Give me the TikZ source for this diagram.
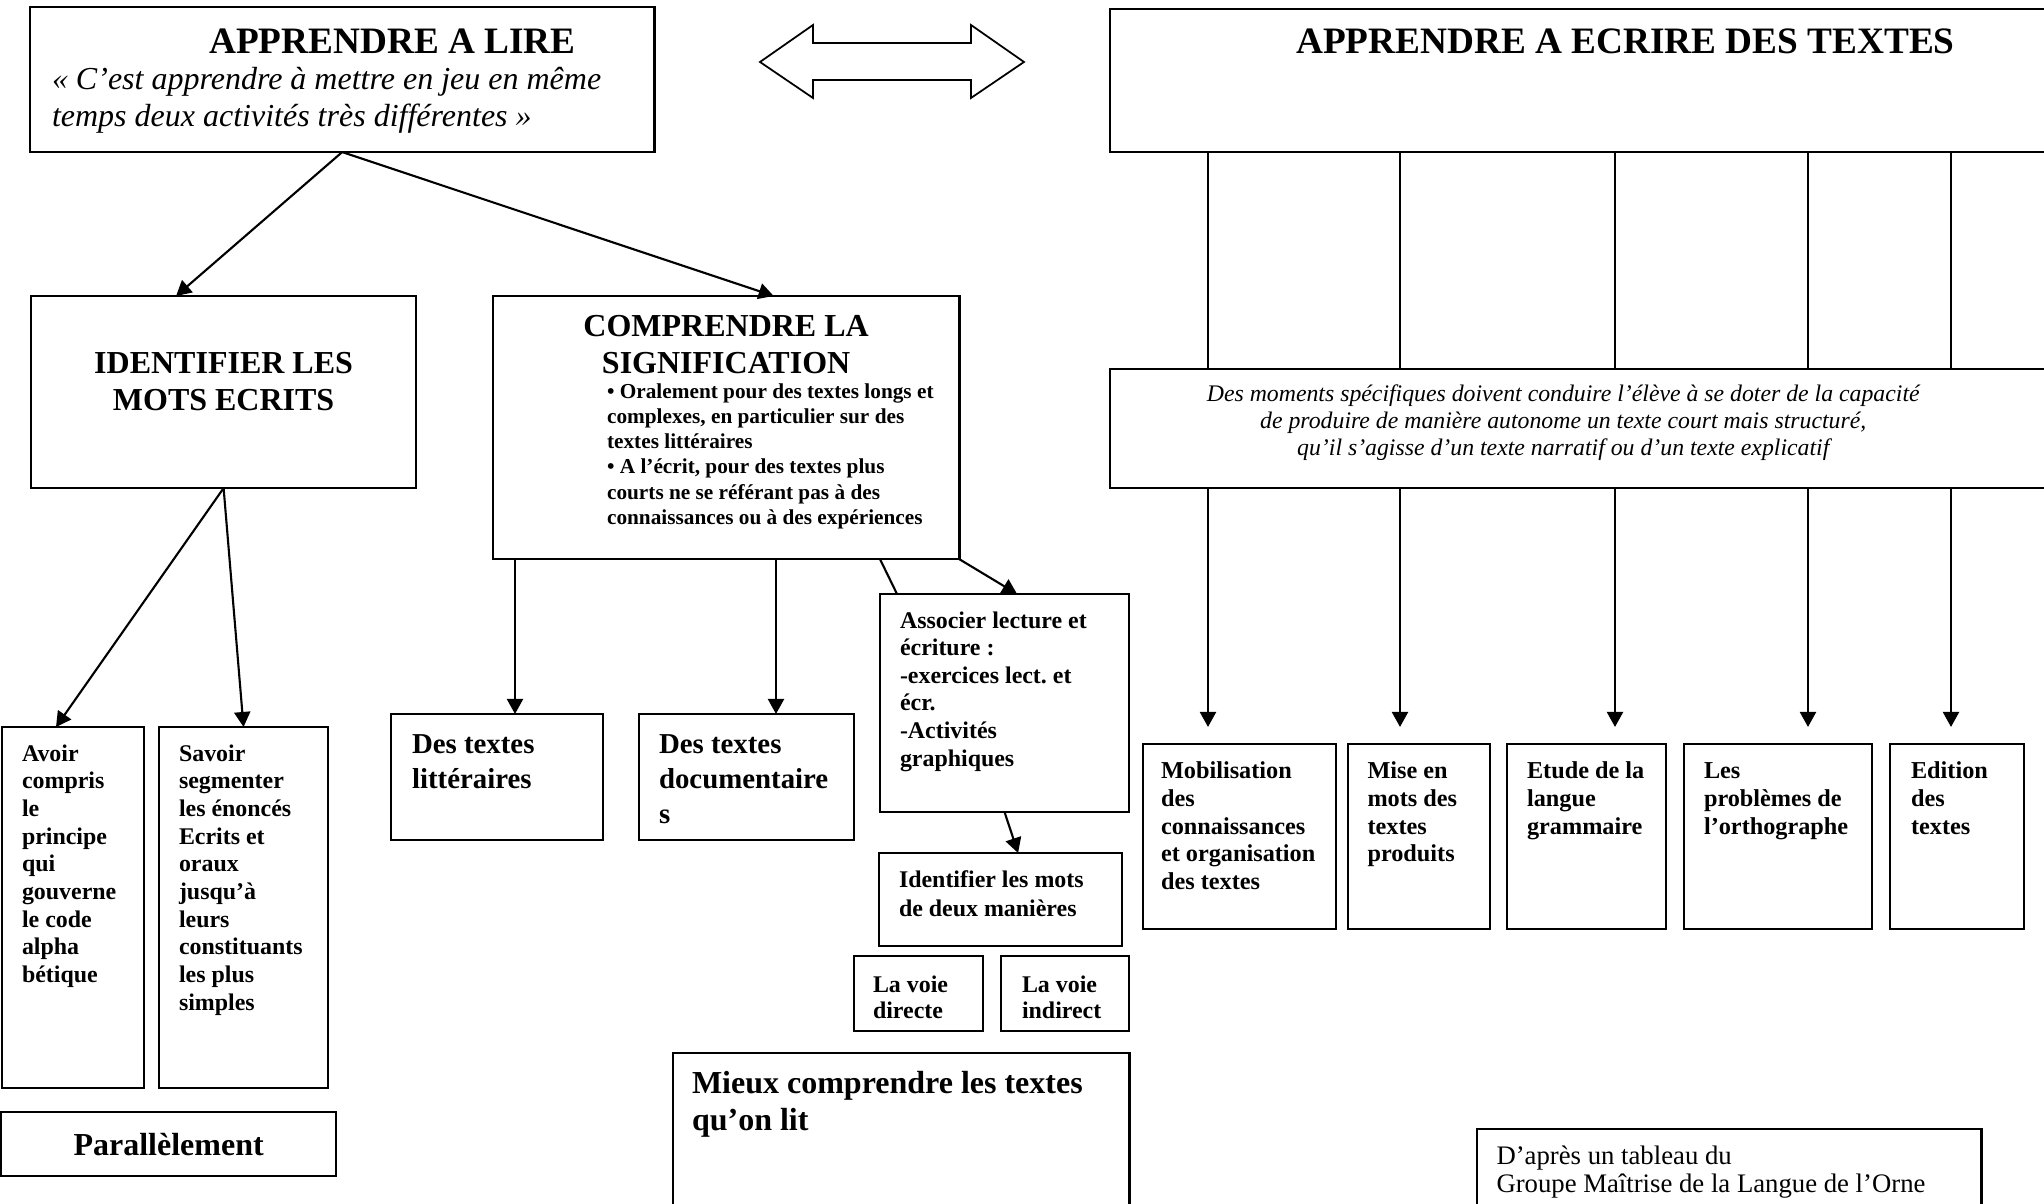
\documentclass[tikz,border=0pt]{standalone}
\usepackage{fontspec}
\setmainfont{Liberation Serif}
\usetikzlibrary{arrows.meta}
\hyphenpenalty=10000
\exhyphenpenalty=10000

\begin{document}
\begin{tikzpicture}
  [x=0.01cm,y=-0.01cm,
   boite/.style={draw,line width=0.7pt,anchor=north west,
     inner ysep=0pt,inner xsep=0.2cm,outer sep=0pt,
     execute at begin node={\frenchspacing\spaceskip=0pt\xspaceskip=0pt}},
   fleche/.style={-{Triangle[length=0.15cm,width=0.16cm]},line width=0.6pt},
   trait/.style={line width=0.6pt},
   mince/.style={line width=0.5pt}]

  \useasboundingbox (0,0) rectangle (2044,1204);

  \def\gros{\fontsize{10.6}{12}\selectfont\bfseries}
  \def\moyen{\fontsize{9.1}{10.6}\selectfont\bfseries}
  \def\petit{\fontsize{6.8}{7.88}\selectfont\bfseries}
  \def\rubrique{\fontsize{6.9}{7.9}\selectfont\bfseries}

  % lire
  \node[boite,inner xsep=0.22cm,text width=5.8cm,text height=0.46cm,text depth=0.99cm] (lire) at (30,7)
    {{\gros\hspace*{1.57cm}APPRENDRE A LIRE\par}
     {\fontsize{9.1}{10.4}\selectfont\itshape « C’est apprendre à mettre en jeu en même\\temps deux activités très différentes »\par}};

  \draw[mince] (760,62) -- (813,25) -- (813,43) -- (971,43) -- (971,25) -- (1024,62)
    -- (971,98) -- (971,80) -- (813,80) -- (813,98) -- cycle;

  % ecrire
  \node[boite,font=\gros,text width=9.04cm,text height=0.44cm,text depth=0.99cm] (ecrire) at (1110,9)
    {\hspace*{1.66cm}APPRENDRE A ECRIRE DES TEXTES};

  \node[boite,font=\moyen,inner xsep=0.1cm,text width=3.65cm,text height=0.77cm,text depth=1.15cm] (identifier) at (31,296)
    {\centering IDENTIFIER LES\\MOTS ECRITS\par};

  \node[boite,inner xsep=0.1cm,text width=4.46cm,text height=0.40cm,text depth=2.23cm] (comprendre) at (493,296)
    {{\centering\moyen COMPRENDRE LA\\SIGNIFICATION\par}
     {\leftskip=1.04cm\fontsize{6.05}{7.15}\selectfont\bfseries • Oralement pour des textes longs et\\complexes, en particulier sur des\\textes littéraires\\• A l’écrit, pour des textes plus\\courts ne se référant pas à des\\connaissances ou à des expériences\par}};

  \node[boite,font=\petit,text width=1.02cm,text height=0.34cm,text depth=3.27cm] (avoir) at (2,727)
    {Avoir\\compris\\le\\principe\\qui\\gouverne\\le code\\alpha\\bétique};

  \node[boite,font=\petit,text width=1.29cm,text height=0.34cm,text depth=3.27cm] (savoir) at (159,727)
    {Savoir\\segmenter\\les énoncés\\Ecrits et\\oraux\\jusqu’à\\leurs\\constituants\\les plus\\simples};

  \node[boite,font=\moyen,inner xsep=0.1cm,text width=3.15cm,text height=0.43cm,text depth=0.21cm] (parallele) at (1,1112)
    {\centering Parallèlement\par};

  \node[boite,font=\fontsize{8.2}{10}\selectfont\bfseries,inner xsep=0.21cm,text width=1.70cm,text height=0.39cm,text depth=0.87cm] (litt) at (391,714)
    {Des textes\\littéraires};

  \node[boite,font=\fontsize{8.2}{10}\selectfont\bfseries,text width=1.75cm,text height=0.39cm,text depth=0.87cm] (docu) at (639,714)
    {Des textes\\documentaire\\s};

  \node[boite,font=\fontsize{6.8}{7.85}\selectfont\bfseries,text width=2.09cm,text height=0.34cm,text depth=1.84cm] (associer) at (880,594)
    {Associer lecture et\\écriture :\\-exercices lect. et\\écr.\\-Activités\\graphiques};

  \node[boite,font=\fontsize{6.8}{8.2}\selectfont\bfseries,text width=2.03cm,text height=0.345cm,text depth=0.585cm] (identmots) at (879,853)
    {Identifier les mots\\de deux manières};

  \node[boite,font=\fontsize{6.8}{7.4}\selectfont\bfseries,inner xsep=0.19cm,text width=0.91cm,text height=0.36cm,text depth=0.39cm] (directe) at (854,956)
    {La voie\\directe};

  \node[boite,font=\fontsize{6.8}{7.4}\selectfont\bfseries,inner xsep=0.21cm,text width=0.86cm,text height=0.36cm,text depth=0.39cm] (indirecte) at (1001,956)
    {La voie\\indirect};

  \node[boite,font=\fontsize{9.1}{10.8}\selectfont\bfseries,inner xsep=0.19cm,text width=4.18cm,text height=0.40cm,text depth=1.30cm] (mieux) at (673,1053)
    {Mieux comprendre les textes\\qu’on lit};

  % ecrire : moments et rubriques
  \node[boite,font=\fontsize{6.76}{7.8}\selectfont\itshape,text width=9.04cm,text height=0.32cm,text depth=0.87cm] (moments) at (1110,369)
    {\centering\rightskip=0.38cm plus 1fil Des moments spécifiques doivent conduire l’élève à se doter de la capacité\\de produire de manière autonome un texte court mais structuré,\\qu’il s’agisse d’un texte narratif ou d’un texte explicatif\par};

  \node[boite,font=\rubrique,inner xsep=0.18cm,text width=1.57cm,text height=0.345cm,text depth=1.505cm] (mobil) at (1143,744)
    {Mobilisation\\des\\connaissances\\et~organisation\\des textes};

  \node[boite,font=\rubrique,inner xsep=0.195cm,text width=1.03cm,text height=0.345cm,text depth=1.505cm] (mise) at (1348,744)
    {Mise en\\mots des\\textes\\produits};

  \node[boite,font=\rubrique,text width=1.19cm,text height=0.345cm,text depth=1.505cm] (etude) at (1507,744)
    {Etude~de~la\\langue\\grammaire};

  \node[boite,font=\rubrique,text width=1.48cm,text height=0.345cm,text depth=1.505cm] (ortho) at (1684,744)
    {Les\\problèmes~de\\l’orthographe};

  \node[boite,font=\rubrique,inner xsep=0.21cm,text width=0.92cm,text height=0.345cm,text depth=1.505cm] (edition) at (1890,744)
    {Edition\\des\\textes};

  \node[boite,font=\fontsize{7.6}{8.2}\selectfont,inner xsep=0.195cm,text width=4.65cm,text height=0.35cm,text depth=0.76cm] (dapres) at (1477,1129)
    {D’après un tableau du\\Groupe Maîtrise de la Langue de l’Orne};

  % liens
  \draw[fleche] (lire.south) -- ([xshift=-0.475cm]identifier.north);
  \draw[fleche] (lire.south) -- ([xshift=0.475cm]comprendre.north);
  \draw[fleche] (identifier.south) -- ([xshift=-0.17cm]avoir.north);
  \draw[fleche] (identifier.south) -- (savoir.north);
  \draw[fleche] (comprendre.south -| 515,0) -- (litt.north -| 515,0);
  \draw[fleche] (comprendre.south -| 776,0) -- (docu.north -| 776,0);
  \draw[trait] (comprendre.south -| 880,0) -- (associer.north -| 897,0);
  \draw[fleche] (comprendre.south east) -- ([xshift=0.125cm]associer.north);
  \draw[fleche] (associer.south) -- ([xshift=0.175cm]identmots.north);

  \foreach \px/\cible in {1208/mobil,1400/mise,1615/etude,1808/ortho,1951/edition}
  {
    \draw[mince] (ecrire.south -| \px,0) -- (moments.north -| \px,0);
    \draw[fleche,shorten >=0.17cm] (moments.south -| \px,0) -- (\cible.north -| \px,0);
  }
\end{tikzpicture}
\end{document}
